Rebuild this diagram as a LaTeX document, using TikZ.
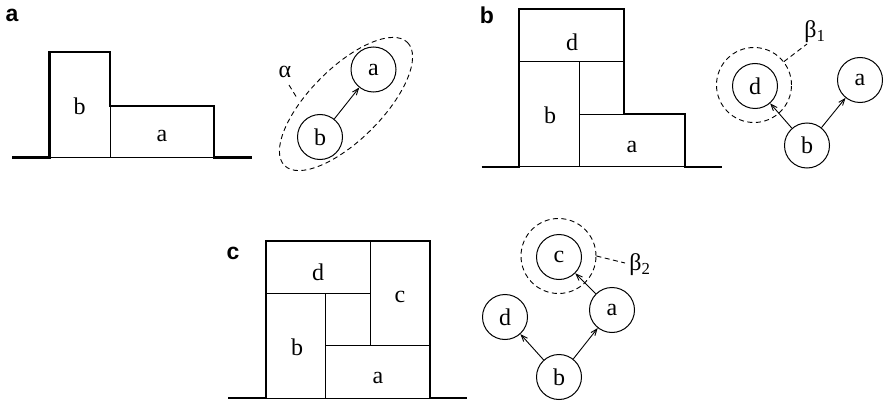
\documentclass[tikz,border=0pt]{standalone}
\usepackage{fontspec}
\setmainfont{Liberation Serif}
\newfontfamily\panelfont{Liberation Sans}
\usetikzlibrary{arrows.meta}
\begin{document}
\begin{tikzpicture}[x=1pt,y=-1pt,
  thickline/.style={line width=2.2pt,line join=miter},
  thinline/.style={line width=0.8pt},
  lbl/.style={font=\fontsize{24}{28}\selectfont,inner sep=0pt},
  panel/.style={font=\panelfont\bfseries\fontsize{23}{27}\selectfont,inner sep=0pt},
  vert/.style={circle,draw,line width=1pt,minimum size=45pt,inner sep=0pt,font=\fontsize{24}{28}\selectfont},
  halo/.style={circle,draw,dashed,dash pattern=on 5pt off 3.5pt,line width=0.9pt,minimum size=75pt,inner sep=0pt},
  dep/.style={line width=0.9pt,-{Straight Barb[length=6.5pt,width=5pt]}},
  leader/.style={dashed,dash pattern=on 5pt off 3.5pt,line width=0.9pt}]
\useasboundingbox (0,0) rectangle (884,404);

% ---------- panel a ----------
\node[panel] (pa) at (12,15) {a};
\draw[thickline] (12,157.5) -- (49.5,157.5) -- (49.5,52) -- (110,52) -- (110,106) -- (214,106) -- (214,157.5) -- (252,157.5);
\draw[thinline] (49.5,157.5) -- (214,157.5) (110,106) -- (110,157.5);
\node[lbl] (ab) at (79.5,106) {b};
\node[lbl] (aa) at (162,136) {a};

\node[vert] (ga) at (373.5,69.5) {a};
\node[vert] (gb) at (320,137) {b};
\draw[dep] (gb) -- (ga);
\draw[dashed,dash pattern=on 5pt off 3.5pt,line width=0.9pt,rotate around={45:(346,104)}] (346,104) ellipse [x radius=87, y radius=36];
\node[lbl] (alpha) at (285,72) {α};
\coordinate (alphaend) at (297,98);
\draw[leader] (289,85) -- (alphaend);

% ---------- panel b ----------
\node[panel] (pb) at (487,15) {b};
\draw[thickline] (481.7,166.7) -- (519,166.7) -- (519,9.3) -- (624,9.3) -- (624,114.3) -- (685,114.3) -- (685,166.7) -- (721.7,166.7);
\draw[thinline] (519,166.7) -- (685,166.7) (519,61.7) -- (624,61.7) (579,61.7) -- (579,166.7) (579,114.3) -- (624,114.3);
\node[lbl] (bd) at (572,42) {d};
\node[lbl] (bb) at (550,115) {b};
\node[lbl] (ba) at (632,147) {a};

\node[vert] (hd) at (755,86) {d};
\node[vert] (ha) at (860,80) {a};
\node[vert] (hb) at (807,145.5) {b};
\draw[dep] (hb) -- (hd);
\draw[dep] (hb) -- (ha);
\node[halo] (hd1) at (754,85) {};
\node[lbl] (beta1) at (815,32) {β\textsubscript{1}};
\draw[leader] (hd1.38) -- (807,44);

% ---------- panel c ----------
\node[panel] (pc) at (233,253) {c};
\draw[thickline] (228,398) -- (265.7,398) -- (265.7,241) -- (430,241) -- (430,398) -- (467,398);
\draw[thinline] (265.7,398) -- (430,398) (265.7,293.3) -- (370.7,293.3) (370.7,241) -- (370.7,345.7) (325.7,293.3) -- (325.7,398) (325.7,345.7) -- (430,345.7);
\node[lbl] (cd) at (318,272) {d};
\node[lbl] (cc) at (400,297) {c};
\node[lbl] (cb) at (297,347) {b};
\node[lbl] (ca) at (378,378) {a};

\node[vert] (kc) at (559,257) {c};
\node[vert] (ka) at (612,310) {a};
\node[vert] (kd) at (505,317) {d};
\node[vert] (kb) at (559,377) {b};
\draw[dep] (ka) -- (kc);
\draw[dep] (kb) -- (kd);
\draw[dep] (kb) -- (ka);
\node[halo] (kc1) at (558.5,256) {};
\node[lbl] (beta2) at (640,265) {β\textsubscript{2}};
\draw[leader] (kc1.east) -- (625,263);
\end{tikzpicture}
\end{document}
